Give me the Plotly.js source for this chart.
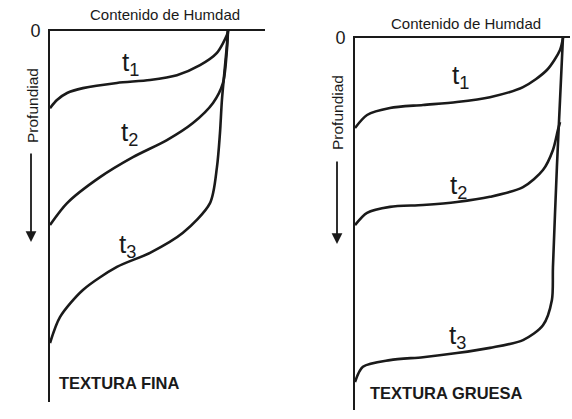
<!DOCTYPE html>
<html>
<head>
<meta charset="utf-8">
<script src="https://cdn.plot.ly/plotly-3.0.1.min.js"></script>
<style>html,body{margin:0;padding:0;background:#fff;}#chart{width:572px;height:419px;}</style>
</head>
<body>
<div id="chart"></div>
<script>
// Moisture content (% of saturation) and depth (% of profile)
// Left panel: fine texture
var fineT1Moist = [0, 3.9, 9.6, 18.5, 37.6, 56.2, 71.3, 84.3, 93.8, 99.4, 100];
var fineT1Depth = [20.8, 18.6, 16.7, 15.4, 14.0, 13.2, 11.9, 9.2, 5.9, 1.1, 0];
var fineT2Moist = [0, 9.6, 28.1, 46.6, 65.7, 80.3, 91.6, 97.2, 99.4, 100];
var fineT2Depth = [52.3, 46.4, 39.4, 34.0, 29.4, 24.8, 19.4, 14.0, 5.1, 0];
var fineT3Moist = [0, 5.6, 18.5, 37.6, 56.2, 74.7, 89.9, 93.8, 95.5, 96.6, 99.4, 100];
var fineT3Depth = [84.1, 77.1, 69.8, 63.6, 59.8, 54.4, 46.4, 36.7, 27.5, 18.6, 3.8, 0];
// Right panel: coarse texture
var coarseT1Moist = [0, 5.8, 16.8, 32.7, 49.0, 64.9, 80.8, 92.3, 98.6, 100];
var coarseT1Depth = [24.2, 20.7, 18.8, 18.0, 17.2, 15.9, 13.2, 8.6, 3.2, 0];
var coarseT2Moist = [0, 5.8, 16.8, 32.7, 49.0, 64.9, 80.8, 90.4, 95.2, 97.6, 98.6];
var coarseT2Depth = [50.3, 47.0, 45.4, 44.9, 44.1, 42.7, 40.1, 35.5, 30.1, 24.7, 22.6];
var coarseT3Moist = [0, 3.8, 16.8, 32.7, 49.0, 64.9, 80.8, 90.4, 94.7, 95.2, 97.1, 98.6, 100];
var coarseT3Depth = [92.5, 88.4, 86.6, 85.8, 84.7, 83.3, 81.2, 77.2, 70.4, 61.6, 34.7, 16.7, 0];

var curveLabels = ['t<sub>1</sub>', 't<sub>2</sub>', 't<sub>3</sub>'];
var panelTitles = ['TEXTURA FINA', 'TEXTURA GRUESA'];
var xTitle = 'Contenido de Humdad';
var yTitle = 'Profundiad';

var W = 572, H = 419;
function px(x){ return x / W; }
function py(y){ return 1 - y / H; }

var lineStyle = {color: '#1a1a1a', width: 2.6, shape: 'spline', smoothing: 0.8};
function tr(x, y, xa, ya){
  return {x: x, y: y, xaxis: xa, yaxis: ya, type: 'scatter', mode: 'lines', line: lineStyle, hoverinfo: 'skip', showlegend: false};
}
var data = [
  tr(fineT1Moist, fineT1Depth, 'x', 'y'),
  tr(fineT2Moist, fineT2Depth, 'x', 'y'),
  tr(fineT3Moist, fineT3Depth, 'x', 'y'),
  tr(coarseT1Moist, coarseT1Depth, 'x2', 'y2'),
  tr(coarseT2Moist, coarseT2Depth, 'x2', 'y2'),
  tr(coarseT3Moist, coarseT3Depth, 'x2', 'y2')
];

var fam = 'Liberation Sans, Arial, sans-serif';
function xax(dom, rng){
  return {domain: dom, range: rng, side: 'top', showline: true, linecolor: '#1a1a1a', linewidth: 1.8,
    showgrid: false, zeroline: false, showticklabels: false, ticks: '', fixedrange: true};
}
function yax(dom, rng, anchor){
  return {domain: dom, range: rng, anchor: anchor, showline: true, linecolor: '#1a1a1a', linewidth: 1.8,
    showgrid: false, zeroline: false, ticks: '', tickvals: [0], ticktext: ['0'], ticklabelstandoff: 4,
    tickfont: {family: fam, size: 18, color: '#1a1a1a'}, fixedrange: true};
}

var ann = [];
function txt(x, y, t, size, opts){
  var a = Object.assign({xref: 'paper', yref: 'paper', x: px(x), y: py(y), text: t, showarrow: false,
    font: {family: fam, size: size, color: '#1a1a1a'}, xanchor: 'center', yanchor: 'middle'}, opts || {});
  ann.push(a);
}
// axis titles
txt(165, 14, xTitle, 15);
txt(466, 24, xTitle, 15);
txt(33, 106, yTitle, 15.5, {textangle: -90});
txt(338, 113, yTitle, 15.5, {textangle: -90});
// depth arrows
function arrow(x, y0, y1){
  ann.push({xref: 'paper', yref: 'paper', x: px(x), y: py(y1), ax: 0, ay: -(y1 - y0), text: '',
    showarrow: true, arrowhead: 2, arrowsize: 1.2, arrowwidth: 1.8, arrowcolor: '#1a1a1a'});
}
arrow(31, 152, 242);
arrow(337, 160, 244);
// curve labels
txt(130, 63, curveLabels[0], 26);
txt(129, 133, curveLabels[1], 26);
txt(127, 245, curveLabels[2], 26);
txt(460, 76, curveLabels[0], 26);
txt(459, 186, curveLabels[1], 26);
txt(457, 336, curveLabels[2], 26);
// panel captions
txt(119, 383, '<b>' + panelTitles[0] + '</b>', 16.5);
txt(446, 393, '<b>' + panelTitles[1] + '</b>', 16.5);

var layout = {
  width: W, height: H, margin: {l: 0, r: 0, t: 0, b: 0},
  paper_bgcolor: '#ffffff', plot_bgcolor: 'rgba(0,0,0,0)', showlegend: false,
  xaxis: Object.assign(xax([px(50), px(265)], [0, 120.8]), {anchor: 'y'}),
  yaxis: yax([py(402), py(31)], [100, 0], 'x'),
  xaxis2: Object.assign(xax([px(355), px(570)], [0, 103.4]), {anchor: 'y2'}),
  yaxis2: yax([py(410), py(38)], [100, 0], 'x2'),
  annotations: ann
};
Plotly.newPlot('chart', data, layout, {staticPlot: true, displayModeBar: false});
</script>
</body>
</html>
